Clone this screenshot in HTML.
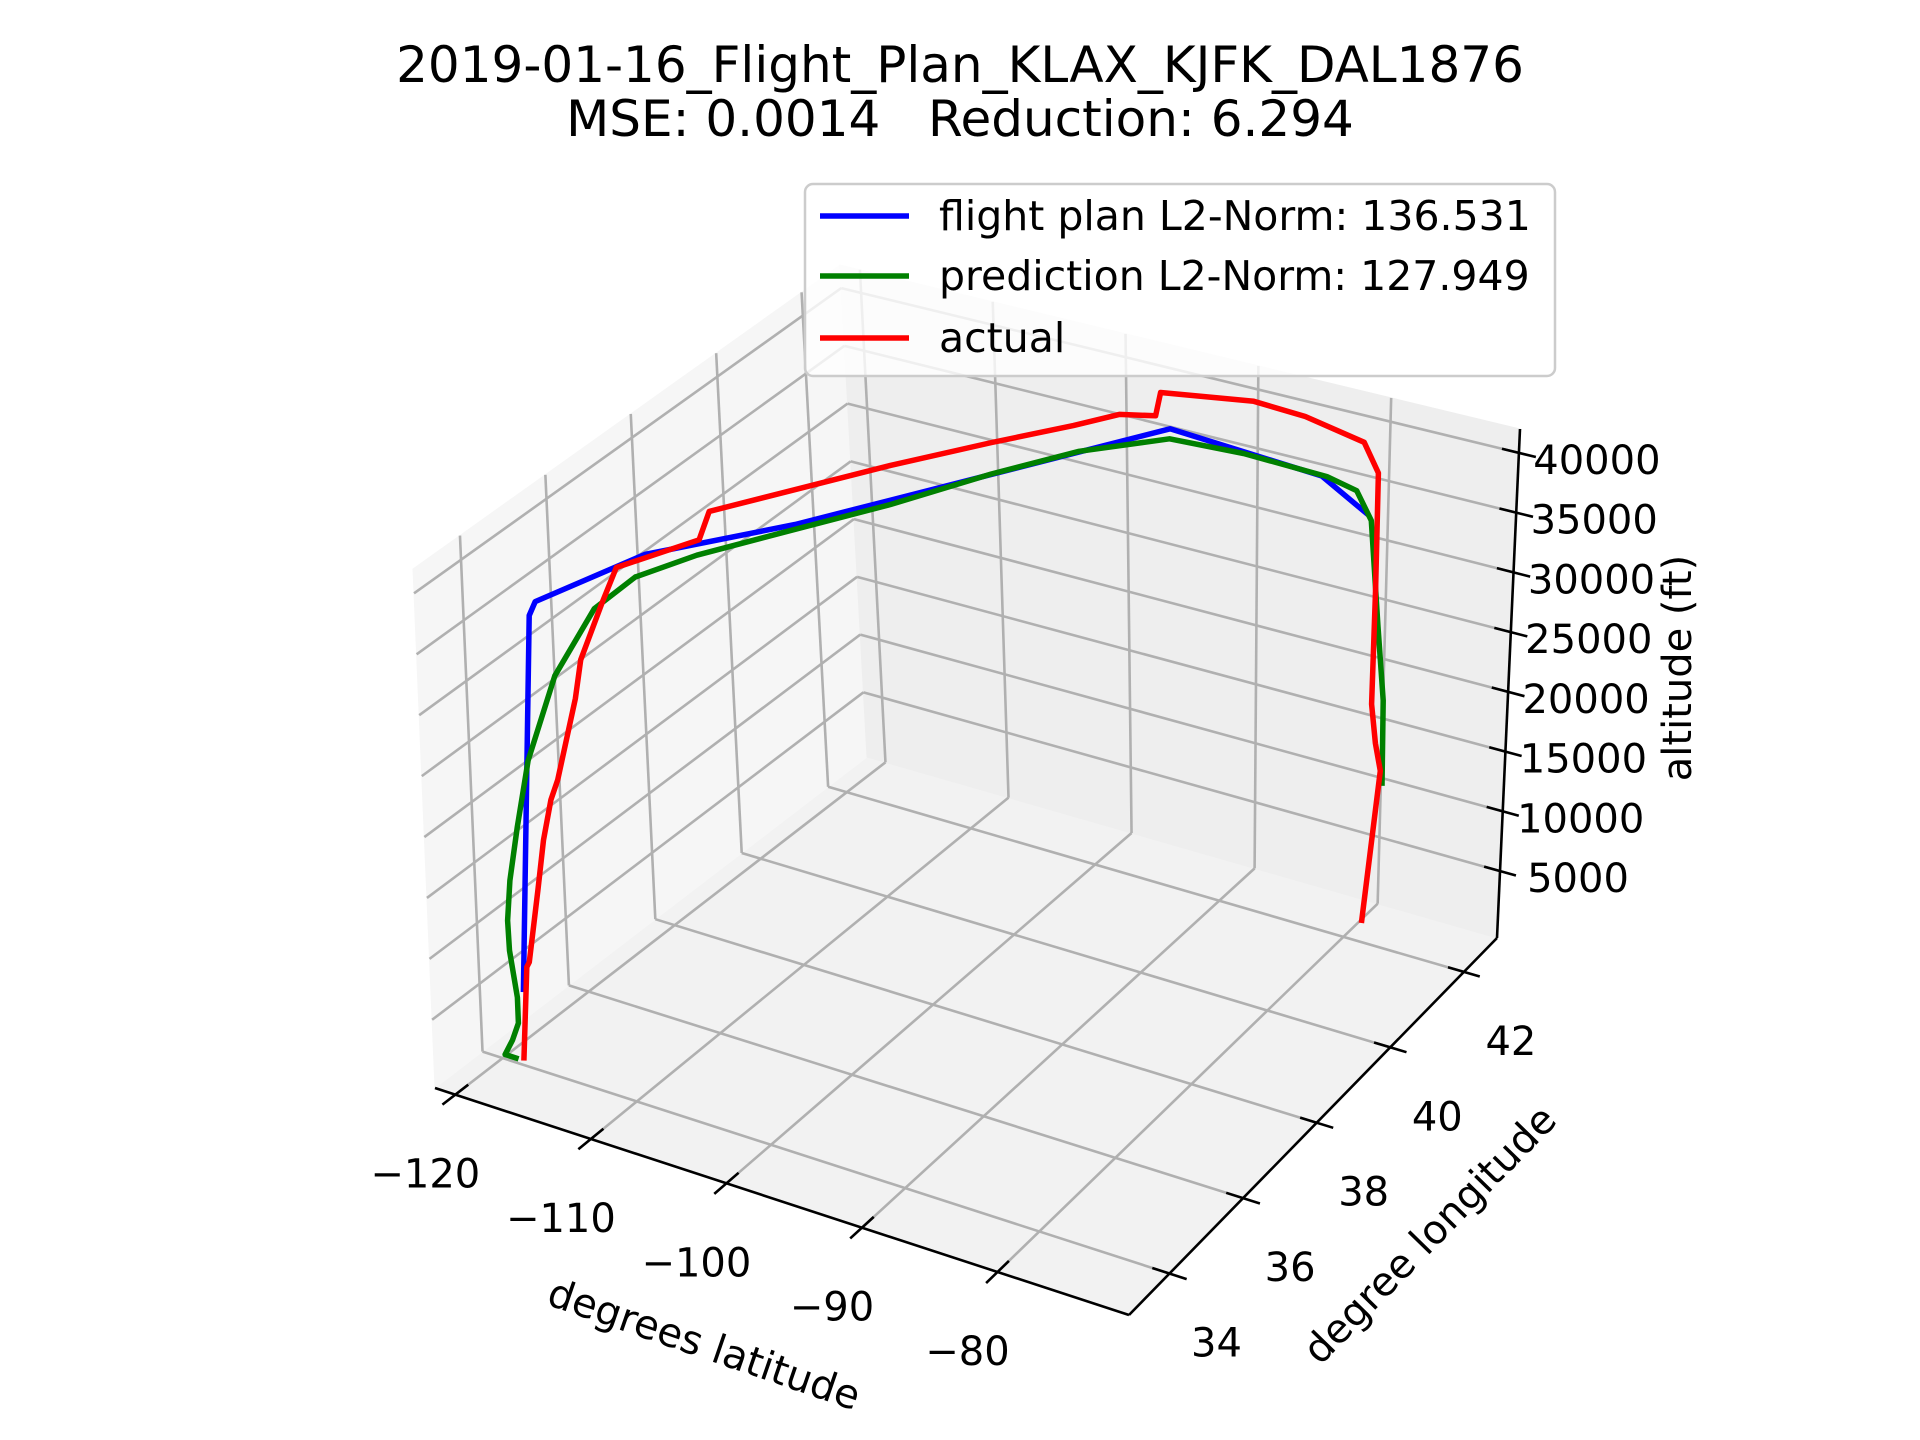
<!DOCTYPE html>
<html><head><meta charset="utf-8"><style>
html,body{margin:0;padding:0;background:#fff;}
svg{display:block;font-family:"DejaVu Sans","Liberation Sans",sans-serif;}
</style></head><body>
<svg id="chart" xmlns="http://www.w3.org/2000/svg" width="1920" height="1440" viewBox="0 0 1920 1440">
<rect x="0" y="0" width="1920" height="1440" fill="#ffffff"/>
<text x="960" y="65" text-anchor="middle" dominant-baseline="central" font-size="50" fill="#000">2019-01-16_Flight_Plan_KLAX_KJFK_DAL1876</text>
<text x="960" y="119" text-anchor="middle" dominant-baseline="central" font-size="50" fill="#000" xml:space="preserve" style="white-space:pre">MSE: 0.0014   Reduction: 6.294</text>
<g id="panes"></g>
<g id="grid"></g>
<g id="axes"></g>
<g id="series"></g>
<text x="704" y="1345" text-anchor="middle" dominant-baseline="central" font-size="40" transform="rotate(19 704 1345)">degrees latitude</text>
<text x="1430" y="1235" text-anchor="middle" dominant-baseline="central" font-size="40" transform="rotate(-45.7 1430 1235)">degree longitude</text>
<text x="1678" y="668" text-anchor="middle" dominant-baseline="central" font-size="40" transform="rotate(-90 1678 668)">altitude (ft)</text>
<g>
<rect x="805" y="184" width="750" height="192" rx="8" fill="#ffffff" fill-opacity="0.8" stroke="#cccccc" stroke-width="2.5"/>
<line x1="820" y1="216" x2="909" y2="216" stroke="#0000ff" stroke-width="5.5"/>
<text x="939" y="216" dominant-baseline="central" font-size="41">flight plan L2-Norm: 136.531</text>
<line x1="820" y1="276" x2="909" y2="276" stroke="#008000" stroke-width="5.5"/>
<text x="939" y="276" dominant-baseline="central" font-size="41">prediction L2-Norm: 127.949</text>
<line x1="820" y1="338" x2="909" y2="338" stroke="#ff0000" stroke-width="5.5"/>
<text x="939" y="338" dominant-baseline="central" font-size="41">actual</text>
</g>
</svg>
<script>
const xTicks=[-120,-110,-100,-90,-80];
const yTicks=[34,36,38,40,42];
const zTicks=[5000,10000,15000,20000,25000,30000,35000,40000];
const xLim=[-121.5,-70.3];
const yLim=[32.9,42.9];
const zLim=[-600,42000];

const planLon=[-118.03,-116.5,-114.7,-112.3,-106.4,-92.3,-80.3,-74.96];
const planLat=[33.94,33.94,33.52,35.33,36.99,41.48,41.27,40.65];
const planAlt=[5700,37200,40000,40000,40000,40000,40000,40000];

const predLon=[-118.6,-119.6,-119.0,-118.5,-118.5,-118.95,-119.0,-118.7,-118.0,-117.0,-114.8,-114.2,-112.7,-110.37,-107.2,-103.5,-100.07,-96.74,-92.47,-87.17,-80.76,-78.08,-75.47,-74.75,-74.2,-74.1];
const predLat=[33.94,33.94,33.94,33.94,33.94,33.94,33.94,33.94,33.94,33.94,33.94,34.72,35.22,35.93,37.06,38.32,39.65,40.70,41.52,41.61,41.56,41.41,40.9,40.9,40.9,40.9];
const predAlt=[0,0,1400,2980,5100,8800,11250,14650,19250,25100,32800,36500,38300,39000,39000,39000,39000,39000,39000,39000,39000,39000,38700,30100,24150,17100];

const actLon=[-118.2,-117.7,-117.5,-116.65,-116.09,-115.43,-114.87,-113.35,-112.86,-113.97,-114.64,-112.23,-111.95,-109.13,-105.42,-101.43,-98.05,-96.23,-94.06,-94.08,-88.09,-84.05,-78.85,-76.9,-76.44,-75.93,-75.27,-74.55,-74.65];
const actLat=[33.94,33.94,33.94,33.94,33.94,33.94,33.94,33.94,33.94,34.82,35.4,36.58,36.75,37.72,38.96,40.11,40.99,41.52,41.7,41.83,42.16,42.1,41.84,41.55,41.4,41.2,41.1,41.0,40.64];
const actAlt=[0,7880,8350,14560,18870,22400,24230,31430,34750,36700,38000,38000,40000,40000,40000,40000,40000,40000,40000,41600,41600,41600,41600,40400,31300,22450,19680,17900,6350];

const NS="http://www.w3.org/2000/svg";
const C000=[435,1088],C100=[1129,1315],C110=[1497,938],C010=[867,757];
const C001=[413,569],C101=[1129,775],C111=[1520,429],C011=[840,265];
function proj(x,y,z){
  const u=(x-xLim[0])/(xLim[1]-xLim[0]);
  const v=(y-yLim[0])/(yLim[1]-yLim[0]);
  const w=(z-zLim[0])/(zLim[1]-zLim[0]);
  const r=[0,0];
  for(let i=0;i<2;i++){
    const f0=C000[i]*(1-u)*(1-v)+C100[i]*u*(1-v)+C110[i]*u*v+C010[i]*(1-u)*v;
    const f1=C001[i]*(1-u)*(1-v)+C101[i]*u*(1-v)+C111[i]*u*v+C011[i]*(1-u)*v;
    r[i]=f0*(1-w)+f1*w;
  }
  return r;
}
function mk(tag,attrs,parent){
  const e=document.createElementNS(NS,tag);
  for(const k in attrs) e.setAttribute(k,attrs[k]);
  parent.appendChild(e);
  return e;
}
function poly(pts){return pts.map(p=>p[0].toFixed(1)+","+p[1].toFixed(1)).join(" ");}

const panes=document.getElementById('panes');
const [X0,X1]=xLim,[Y0,Y1]=yLim,[Z0,Z1]=zLim;
let p;
p=mk('polygon',{points:poly([proj(X0,Y0,Z0),proj(X1,Y0,Z0),proj(X1,Y1,Z0),proj(X0,Y1,Z0)]),fill:'#f2f2f2',stroke:'#f2f2f2'},panes);


p=mk('polygon',{points:poly([proj(X0,Y0,Z0),proj(X0,Y1,Z0),proj(X0,Y1,Z1),proj(X0,Y0,Z1)]),fill:'#f6f6f6',stroke:'#f6f6f6'},panes);


p=mk('polygon',{points:poly([proj(X0,Y1,Z0),proj(X1,Y1,Z0),proj(X1,Y1,Z1),proj(X0,Y1,Z1)]),fill:'#eeeeee',stroke:'#eeeeee'},panes);



const grid=document.getElementById('grid');
function gl(a,b,name){
  const l=mk('line',{x1:a[0],y1:a[1],x2:b[0],y2:b[1],stroke:'#b0b0b0','stroke-width':2.6},grid);
  
  
}
xTicks.forEach(t=>{gl(proj(t,Y0,Z0),proj(t,Y1,Z0),'floor-grid-x');gl(proj(t,Y1,Z0),proj(t,Y1,Z1),'back-grid-x');});
yTicks.forEach(t=>{gl(proj(X0,t,Z0),proj(X1,t,Z0),'floor-grid-y');gl(proj(X0,t,Z0),proj(X0,t,Z1),'left-grid-y');});
zTicks.forEach(t=>{gl(proj(X0,Y0,t),proj(X0,Y1,t),'left-grid-z');gl(proj(X0,Y1,t),proj(X1,Y1,t),'back-grid-z');});

const axes=document.getElementById('axes');
function al(a,b,name){
  const l=mk('line',{x1:a[0],y1:a[1],x2:b[0],y2:b[1],stroke:'#000','stroke-width':2.6},axes);
  
  
}
function lab(pt,dx,dy,txt,name){
  const t=mk('text',{x:(pt[0]+dx).toFixed(1),y:(pt[1]+dy).toFixed(1),'text-anchor':'middle','dominant-baseline':'central','font-size':40,fill:'#000'},axes);
  t.textContent=txt;
  
  
}
al(proj(X0,Y0,Z0),proj(X1,Y0,Z0),'x-axis-line');
al(proj(X1,Y0,Z0),proj(X1,Y1,Z0),'y-axis-line');
al(proj(X1,Y1,Z0),proj(X1,Y1,Z1),'z-axis-line');
const dv=(Y1-Y0)*0.03, du=(X1-X0)*0.025;
xTicks.forEach(t=>{
  al(proj(t,Y0+dv,Z0),proj(t,Y0-dv,Z0),'x-tick');
  lab(proj(t,Y0,Z0),-30,80,(t<0?'\u2212':'')+Math.abs(t),'x-tick-label');
});
yTicks.forEach(t=>{
  al(proj(X1-du,t,Z0),proj(X1+du,t,Z0),'y-tick');
  lab(proj(X1,t,Z0),47,70,String(t),'y-tick-label');
});
zTicks.forEach(t=>{
  al(proj(X1-du,Y1,t),proj(X1+du,Y1,t),'z-tick');
  lab(proj(X1,Y1,t),78,8,String(t),'z-tick-label');
});

const series=document.getElementById('series');
function drawSeries(lon,lat,alt,color,name){
  const pts=lon.map((v,i)=>proj(v,lat[i],alt[i]));
  const pl=mk('polyline',{points:poly(pts),fill:'none',stroke:color,'stroke-width':5.5,'stroke-linejoin':'round','stroke-linecap':'butt'},series);
  
  
}
drawSeries(planLon,planLat,planAlt,'#0000ff','flight-plan-line');
drawSeries(predLon,predLat,predAlt,'#008000','prediction-line');
drawSeries(actLon,actLat,actAlt,'#ff0000','actual-line');
</script>
</body></html>
